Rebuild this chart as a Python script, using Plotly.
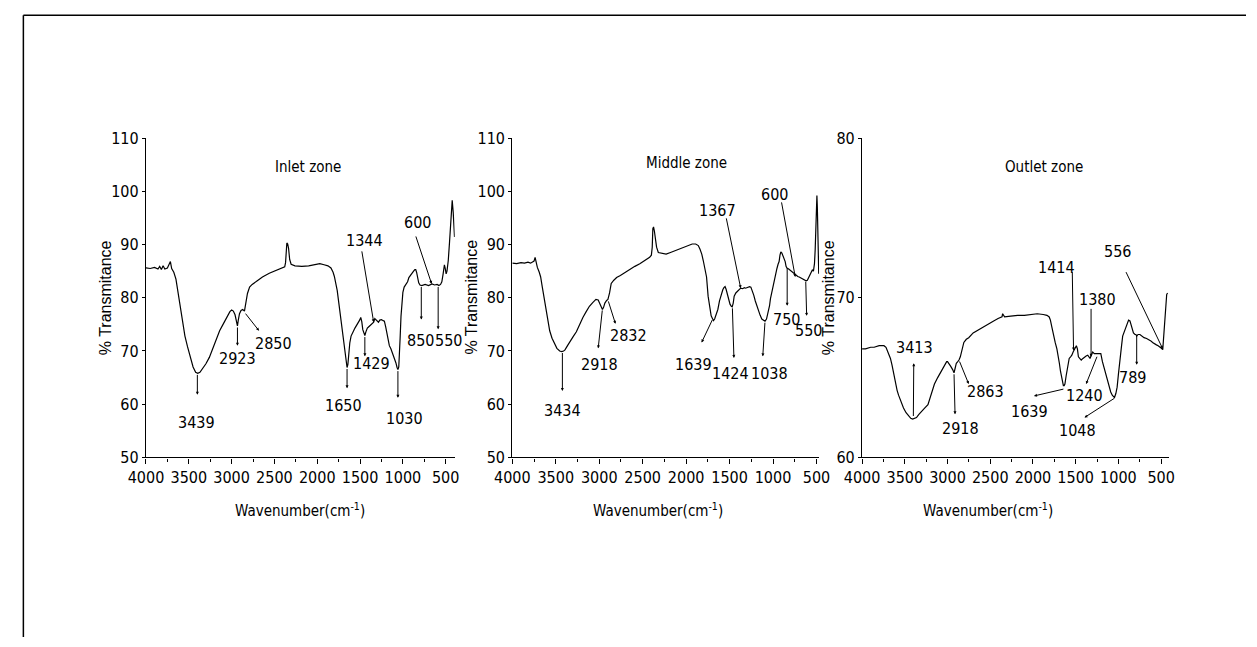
import plotly.graph_objects as go

# ---------------- data ----------------
wn_inlet = [4000, 3950, 3900, 3860, 3840, 3820, 3800, 3780, 3750, 3715, 3700, 3675, 3650, 3625, 3600,
            3575, 3545, 3515, 3480, 3450, 3420, 3395, 3370, 3340, 3300, 3260, 3220, 3180, 3140, 3100,
            3060, 3020, 3000, 2980, 2960, 2945, 2932, 2922, 2908, 2890, 2870, 2850, 2835, 2815, 2790,
            2760, 2700, 2640, 2560, 2490, 2420, 2380, 2370, 2362, 2355, 2345, 2335, 2322, 2305, 2260,
            2180, 2100, 2030, 1970, 1920, 1875, 1840, 1815, 1800, 1785, 1767, 1748, 1729, 1710, 1691,
            1675, 1662, 1652, 1642, 1632, 1620, 1605, 1590, 1575, 1560, 1540, 1520, 1505, 1492, 1480,
            1468, 1455, 1444, 1432, 1415, 1395, 1375, 1355, 1341, 1328, 1315, 1300, 1285, 1270, 1250,
            1230, 1216, 1200, 1185, 1170, 1158, 1140, 1120, 1100, 1082, 1068, 1058, 1048, 1040, 1032,
            1022, 1012, 1000, 985, 965, 945, 930, 915, 895, 875, 860, 850, 840, 828, 815,
            800, 780, 740, 700, 660, 630, 600, 580, 560, 545, 530, 515, 505, 495, 485,
            470, 455, 440, 430, 424, 412, 404, 397]
t_inlet = [85.6, 85.5, 85.7, 85.4, 85.9, 85.3, 86.0, 85.4, 85.6, 86.8, 85.5, 84.8, 83.5, 81.0, 78.5,
           75.8, 72.8, 70.8, 68.8, 67.0, 66.0, 65.8, 66.0, 66.7, 67.6, 68.8, 70.5, 72.2, 73.8, 75.0,
           76.3, 77.4, 77.7, 77.5, 76.8, 75.8, 74.7, 75.8, 77.0, 77.6, 77.8, 77.5, 78.8, 80.8, 82.0,
           82.5, 83.2, 83.9, 84.6, 85.1, 85.5, 85.8, 86.6, 89.2, 90.3, 90.1, 89.3, 87.2, 86.3, 86.0,
           85.9, 86.0, 86.2, 86.4, 86.2, 86.0, 85.6, 84.8, 84.0, 82.8, 81.4, 79.0, 76.5, 74.2, 72.2,
           69.8, 67.8, 66.9, 67.5, 69.5, 71.5, 72.8, 73.5, 73.8, 74.3, 74.8, 75.3, 75.8, 76.3, 75.5,
           74.0, 73.3, 72.9, 73.6, 74.3, 74.6, 74.9, 75.1, 75.4, 76.1, 75.9, 75.6, 75.4, 75.8, 75.9,
           75.7, 75.6, 74.5, 73.0, 72.0, 71.0, 70.4, 69.6, 68.8, 67.8, 66.9, 66.5, 67.0, 69.0, 72.5,
           76.5, 79.5, 81.0, 82.0, 82.5, 83.0, 83.8, 84.2, 84.6, 85.0, 85.3, 85.3, 84.8, 83.8, 82.8,
           82.4, 82.3, 82.5, 82.3, 82.6, 82.4, 82.5, 82.3, 82.5, 83.0, 84.5, 86.2, 85.5, 84.5, 85.0,
           87.0, 90.5, 94.0, 96.5, 98.3, 96.0, 93.0, 91.4]

wn_middle = [4000, 3950, 3900, 3860, 3820, 3790, 3768, 3750, 3738, 3725, 3712, 3690, 3674, 3655, 3637,
             3620, 3600, 3570, 3543, 3515, 3487, 3455, 3431, 3410, 3394, 3365, 3337, 3300, 3263, 3225,
             3188, 3150, 3113, 3075, 3038, 3012, 2990, 2975, 2963, 2950, 2935, 2915, 2900, 2881, 2862,
             2832, 2800, 2757, 2700, 2645, 2590, 2533, 2480, 2420, 2400, 2390, 2383, 2375, 2365, 2357,
             2340, 2320, 2280, 2230, 2180, 2130, 2080, 2030, 1980, 1930, 1890, 1860, 1840, 1820, 1803,
             1785, 1765, 1747, 1728, 1712, 1700, 1685, 1672, 1655, 1635, 1616, 1597, 1578, 1565, 1552,
             1540, 1525, 1510, 1495, 1480, 1470, 1458, 1447, 1428, 1410, 1390, 1372, 1350, 1330, 1316,
             1290, 1270, 1255, 1241, 1222, 1204, 1185, 1167, 1148, 1129, 1110, 1092, 1075, 1062, 1054,
             1040, 1030, 1017, 1000, 985, 970, 955, 942, 930, 920, 910, 898, 885, 872, 860,
             850, 840, 820, 800, 780, 750, 736, 715, 699, 680, 661, 640, 620, 605, 595,
             586, 573, 560, 548, 535, 523, 515, 508, 500, 495, 490, 484, 478, 474]
t_middle = [86.5, 86.4, 86.6, 86.5, 86.7, 86.5, 86.7, 86.9, 87.6, 86.5, 85.7, 84.8, 83.9, 82.0, 80.3,
            78.0, 76.0, 73.8, 72.4, 71.3, 70.5, 70.0, 69.9, 70.0, 70.2, 71.0, 71.8, 72.7, 73.6, 75.0,
            76.3, 77.4, 78.4, 79.1, 79.7, 79.6, 78.8, 78.2, 77.8, 78.2, 79.0, 79.5, 79.7, 80.9, 82.7,
            83.3, 83.8, 84.2, 84.8, 85.4, 85.9, 86.4, 86.9, 87.6, 88.0, 89.5, 93.0, 93.3, 92.5, 91.5,
            89.5, 88.5, 88.3, 88.2, 88.5, 88.8, 89.2, 89.5, 89.8, 90.1, 90.1, 89.8, 89.1, 88.2, 87.0,
            85.5, 83.9, 80.3, 77.8, 76.6, 76.2, 75.7, 76.0, 76.8, 77.8, 79.4, 80.6, 81.5, 81.9, 82.1,
            81.6, 80.5, 79.5, 78.8, 78.4, 78.3, 79.0, 80.3, 80.9, 81.2, 81.5, 81.8, 81.7, 81.9, 81.8,
            82.0, 82.1, 82.0, 81.5, 80.5, 79.4, 78.4, 77.5, 76.7, 76.0, 75.8, 75.6, 76.0, 76.8, 77.2,
            78.5, 79.8, 80.9, 82.0, 83.5, 84.2, 85.5, 86.3, 86.8, 88.0, 88.6, 88.4, 87.9, 87.5, 86.8,
            85.9, 85.6, 85.4, 85.1, 84.8, 84.4, 84.2, 84.0, 83.9, 83.7, 83.6, 83.4, 83.2, 83.3, 83.6,
            83.9, 84.4, 84.8, 85.2, 85.0, 86.4, 89.0, 93.5, 97.5, 99.2, 97.0, 93.0, 88.0, 84.5]

wn_outlet = [4000, 3960, 3900, 3859, 3800, 3760, 3744, 3720, 3706, 3685, 3668, 3650, 3637, 3620, 3611,
             3590, 3573, 3545, 3515, 3485, 3458, 3430, 3408, 3385, 3363, 3335, 3305, 3265, 3229, 3190,
             3153, 3115, 3076, 3040, 3010, 3000, 2985, 2962, 2940, 2924, 2910, 2897, 2880, 2866, 2850,
             2836, 2820, 2809, 2780, 2752, 2700, 2637, 2580, 2523, 2460, 2408, 2362, 2355, 2345, 2332,
             2260, 2179, 2100, 2020, 1950, 1880, 1836, 1810, 1796, 1780, 1760, 1740, 1720, 1705, 1691,
             1678, 1663, 1652, 1644, 1635, 1626, 1612, 1599, 1587, 1576, 1560, 1545, 1530, 1515, 1500,
             1492, 1480, 1468, 1453, 1435, 1415, 1397, 1378, 1359, 1345, 1332, 1318, 1301, 1282, 1263,
             1244, 1225, 1206, 1187, 1167, 1149, 1130, 1110, 1090, 1072, 1055, 1046, 1030, 1015, 1000,
             990, 977, 963, 950, 938, 920, 900, 881, 865, 850, 836, 824, 806, 795, 786,
             770, 748, 729, 700, 670, 652, 620, 600, 576, 555, 535, 519, 500, 481, 470,
             460, 450, 443, 435, 425]
t_outlet = [66.8, 66.8, 66.9, 66.9, 67.0, 67.0, 67.0, 66.9, 66.7, 66.4, 66.2, 65.8, 65.4, 64.9, 64.6,
            64.2, 63.9, 63.5, 63.1, 62.8, 62.6, 62.45, 62.4, 62.45, 62.5, 62.7, 62.9, 63.1, 63.3, 63.9,
            64.6, 65.0, 65.4, 65.7, 66.0, 66.0, 65.9, 65.7, 65.5, 65.3, 65.6, 65.9, 66.0, 66.1, 66.3,
            66.6, 67.0, 67.2, 67.4, 67.5, 67.8, 68.0, 68.2, 68.4, 68.55, 68.7, 68.8, 69.0, 68.9, 68.8,
            68.85, 68.9, 68.9, 68.95, 69.0, 68.95, 68.9, 68.8, 68.6, 68.2, 67.6, 67.2, 66.8, 66.4, 65.9,
            65.4, 65.0, 64.7, 64.5, 64.5, 64.6, 65.1, 65.6, 65.9, 66.2, 66.3, 66.4, 66.6, 66.8, 66.9,
            67.0, 66.8, 66.3, 66.2, 66.1, 66.2, 66.3, 66.35, 66.4, 66.3, 66.2, 66.4, 66.6, 66.5, 66.5,
            66.5, 66.5, 66.5, 66.0, 65.6, 65.2, 64.8, 64.4, 64.1, 63.9, 63.8, 63.75, 64.0, 64.4, 65.2,
            65.8, 66.2, 67.0, 67.6, 67.8, 68.0, 68.4, 68.6, 68.55, 68.3, 68.0, 67.8, 67.7, 67.7, 67.6,
            67.7, 67.7, 67.6, 67.5, 67.45, 67.4, 67.3, 67.2, 67.1, 67.05, 67.0, 66.95, 66.85, 66.75, 67.6,
            68.6, 69.5, 70.0, 70.2, 70.3]

x_ticks = [4000, 3500, 3000, 2500, 2000, 1500, 1000, 500]
y_ticks_12 = [50, 60, 70, 80, 90, 100, 110]
y_ticks_3 = [60, 70, 80]

titles = ["Inlet zone", "Middle zone", "Outlet zone"]

# peak labels: (text, tail wavenumber, tail T, head wavenumber, head T, text wavenumber, text T)
peaks_inlet = [
    ("3439", 3400, 65.8, 3400, 61.8, 3405, 56.5),
    ("2923", 2932, 74.7, 2932, 71.0, 2935, 68.6),
    ("2850", 2851, 77.3, 2680, 73.8, 2505, 71.5),
    ("1650", 1652, 66.9, 1652, 63.0, 1690, 59.8),
    ("1429", 1444, 72.9, 1444, 69.0, 1370, 67.6),
    ("1344", 1482, 89.0, 1341, 75.4, 1444, 90.8),
    ("1030", 1058, 66.5, 1058, 61.2, 985, 57.3),
    ("600", 854, 91.8, 664, 82.6, 830, 94.2),
    ("850", 785, 82.3, 785, 75.9, 790, 72.0),
    ("550", 588, 82.3, 588, 74.1, 462, 72.0),
]
peaks_middle = [
    ("3434", 3424, 69.9, 3424, 62.5, 3424, 58.9),
    ("2918", 2963, 77.9, 3012, 70.5, 3001, 67.5),
    ("2832", 2900, 79.6, 2813, 75.1, 2664, 73.0),
    ("1639", 1691, 76.1, 1822, 71.6, 1915, 67.5),
    ("1424", 1468, 78.3, 1450, 68.7, 1486, 65.7),
    ("1367", 1541, 95.2, 1372, 81.8, 1634, 96.4),
    ("1038", 1092, 75.6, 1118, 69.0, 1036, 65.7),
    ("600", 905, 98.2, 744, 83.9, 979, 99.4),
    ("750", 837, 85.8, 837, 78.5, 848, 76.0),
    ("550", 624, 83.3, 613, 76.6, 594, 73.9),
]
peaks_outlet = [
    ("3413", 3400, 62.5, 3395, 65.9, 3382, 66.9),
    ("2918", 2924, 65.3, 2912, 62.7, 2847, 61.8),
    ("2863", 2866, 66.1, 2752, 64.6, 2561, 64.1),
    ("1639", 1626, 64.3, 1988, 63.85, 2046, 62.9),
    ("1414", 1540, 71.7, 1525, 66.7, 1721, 71.9),
    ("1380", 1320, 69.4, 1320, 66.3, 1244, 69.9),
    ("1240", 1244, 66.4, 1378, 64.6, 1397, 63.9),
    ("1048", 1034, 63.75, 1397, 62.5, 1473, 61.7),
    ("789", 786, 67.7, 786, 65.8, 830, 65.0),
    ("556", 919, 71.7, 481, 66.8, 1015, 72.9),
]

# ---------------- figure ----------------
W, H = 1257, 647
NARROW = "Liberation Sans Narrow, Arial Narrow, DejaVu Sans Condensed, Liberation Sans, Arial, sans-serif"
REG = "Liberation Sans, Arial, sans-serif"

panels = [
    dict(wn=wn_inlet, t=t_inlet, x0=131, x1=447, xr=[4000, 395], yr=[50, 110], yt=y_ticks_12,
         peaks=peaks_inlet, title=titles[0], title_pos=(2110, 104.6), ytx=89, xtx=289),
    dict(wn=wn_middle, t=t_middle, x0=506, x1=820, xr=[4000, 470], yr=[50, 110], yt=y_ticks_12,
         peaks=peaks_middle, title=titles[1], title_pos=(1990, 105.4), ytx=464, xtx=655),
    dict(wn=wn_outlet, t=t_outlet, x0=864, x1=1178, xr=[4000, 410], yr=[60, 80], yt=y_ticks_3,
         peaks=peaks_outlet, title=titles[2], title_pos=(1873, 78.2), ytx=829, xtx=993),
]

y_top, y_bot = 133, 462
fig = go.Figure()
annotations = []
layout_axes = {}
for i, p in enumerate(panels):
    n = "" if i == 0 else str(i + 1)
    xa, ya = "x" + n, "y" + n
    fig.add_trace(go.Scatter(x=p["wn"], y=p["t"], mode="lines", xaxis=xa, yaxis=ya,
                             line=dict(color="black", width=1.2), showlegend=False,
                             hoverinfo="skip"))
    layout_axes["xaxis" + n] = dict(
        domain=[p["x0"] / W, p["x1"] / W], range=p["xr"], anchor=ya,
        tickvals=x_ticks, ticktext=[str(v) for v in x_ticks],
        showline=True, linecolor="black", linewidth=1.2, mirror=False,
        ticks="outside", ticklen=5, tickwidth=1, tickcolor="black",
        minor=dict(tickvals=[v - 250 for v in x_ticks], ticks="outside", ticklen=3,
                   tickcolor="black", tickwidth=1),
        showgrid=False, zeroline=False,
        tickfont=dict(family=NARROW, size=16, color="black"))
    layout_axes["yaxis" + n] = dict(
        domain=[1 - y_bot / H, 1 - y_top / H], range=p["yr"], anchor=xa,
        tickvals=p["yt"], ticktext=[str(v) for v in p["yt"]],
        showline=True, linecolor="black", linewidth=1.2, mirror=False,
        ticks="outside", ticklen=3, tickwidth=1, tickcolor="black",
        showgrid=False, zeroline=False,
        tickfont=dict(family=NARROW, size=16, color="black"))

    # panel title
    annotations.append(dict(x=p["title_pos"][0], y=p["title_pos"][1], xref=xa, yref=ya,
                            text=p["title"], showarrow=False, xanchor="center", yanchor="middle",
                            font=dict(family=NARROW, size=15, color="black")))
    # peak labels and arrows
    for (txt, tx, ty, hx, hy, lx, ly) in p["peaks"]:
        annotations.append(dict(x=hx, y=hy, ax=tx, ay=ty, xref=xa, yref=ya, axref=xa, ayref=ya,
                                text="", showarrow=True, arrowhead=2, arrowsize=0.6,
                                arrowwidth=1, arrowcolor="black", standoff=0, startstandoff=0))
        annotations.append(dict(x=lx, y=ly, xref=xa, yref=ya, text=txt, showarrow=False,
                                xanchor="center", yanchor="middle",
                                font=dict(family=NARROW, size=16, color="black")))
    # axis titles
    annotations.append(dict(x=p["ytx"] / W, y=1 - 297 / H, xref="paper", yref="paper",
                            text="% Transmitance", textangle=-90, showarrow=False,
                            xanchor="center", yanchor="middle",
                            font=dict(family=REG, size=16, color="black")))
    annotations.append(dict(x=p["xtx"] / W, y=1 - 516 / H, xref="paper", yref="paper",
                            text="Wavenumber(cm<sup>-1</sup>)", showarrow=False,
                            xanchor="center", yanchor="middle",
                            font=dict(family=NARROW, size=15, color="black")))

shapes = [
    dict(type="line", xref="paper", yref="paper", x0=5.5 / W, x1=1.0, y0=1 - 6.5 / H, y1=1 - 6.5 / H,
         line=dict(color="black", width=1.5)),
    dict(type="line", xref="paper", yref="paper", x0=5.5 / W, x1=5.5 / W, y0=1 - 6.5 / H, y1=0,
         line=dict(color="black", width=1.5)),
]

fig.update_layout(width=W, height=H, margin=dict(l=0, r=0, t=0, b=0),
                  paper_bgcolor="white", plot_bgcolor="white",
                  annotations=annotations, shapes=shapes, **layout_axes)
fig.write_html("out.html",
               post_script="document.body.style.margin='0';document.body.style.overflow='hidden';")
